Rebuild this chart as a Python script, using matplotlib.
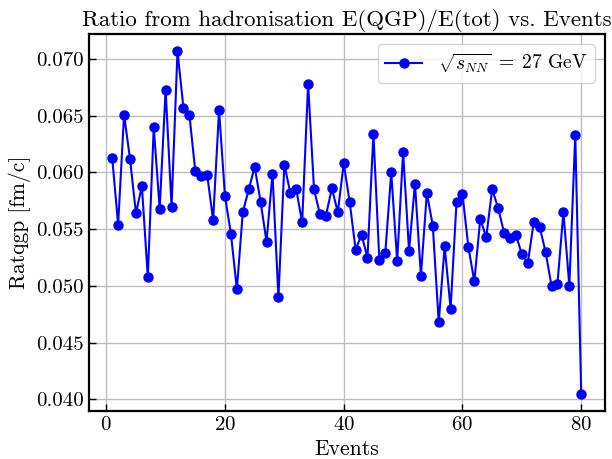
import numpy as np
import matplotlib
matplotlib.use("Agg")
import matplotlib.pyplot as plt

plt.rcParams['font.family'] = 'serif'
plt.rcParams['font.serif'] = ['cmr10']
plt.rcParams['mathtext.fontset'] = 'cm'
plt.rcParams['axes.formatter.use_mathtext'] = True
plt.rcParams['axes.unicode_minus'] = False

# event number and ratio
events = np.arange(1, 81)
ratio = [
    0.0613, 0.0554, 0.0651, 0.0612, 0.0564, 0.0588, 0.0508, 0.0640, 0.0568, 0.0673,
    0.0570, 0.0707, 0.0657, 0.0651, 0.0601, 0.0597, 0.0598, 0.0558, 0.0655, 0.0579,
    0.0546, 0.0497, 0.0565, 0.0585, 0.0605, 0.0574, 0.0539, 0.0599, 0.0490, 0.0607,
    0.0582, 0.0585, 0.0556, 0.0678, 0.0585, 0.0563, 0.0562, 0.0586, 0.0565, 0.0608,
    0.0574, 0.0532, 0.0545, 0.0525, 0.0634, 0.0523, 0.0529, 0.0600, 0.0522, 0.0618,
    0.0531, 0.0590, 0.0509, 0.0582, 0.0553, 0.0468, 0.0535, 0.0480, 0.0574, 0.0581,
    0.0534, 0.0504, 0.0559, 0.0543, 0.0585, 0.0569, 0.0547, 0.0542, 0.0545, 0.0528,
    0.0520, 0.0556, 0.0552, 0.0530, 0.0500, 0.0502, 0.0565, 0.0500, 0.0633, 0.0405,
]

fig, ax = plt.subplots(figsize=(6.12, 4.59), dpi=100)
fig.subplots_adjust(left=0.145, right=0.988, top=0.926, bottom=0.105)

ax.plot(events, ratio, color='blue', marker='o', markersize=6.5, linewidth=1.5,
        label=r'$\sqrt{s_{NN}}\;=\;27$ GeV')

ax.set_title("Ratio from hadronisation E(QGP)/E(tot) vs. Events", fontsize=16.5)
ax.set_xlabel("Events", fontsize=15.5)
ax.set_ylabel("Ratqgp [fm/c]", fontsize=15.5)
ax.set_xticks([0, 20, 40, 60, 80])
ax.set_yticks([0.040, 0.045, 0.050, 0.055, 0.060, 0.065, 0.070])
ax.set_yticklabels(['0.040', '0.045', '0.050', '0.055', '0.060', '0.065', '0.070'])
ax.tick_params(direction='in', labelsize=15, length=5, width=1)
for sp in ax.spines.values():
    sp.set_linewidth(1.6)
ax.grid(True, color='#bdbdbd', linewidth=1)
ax.legend(fontsize=14, loc='upper right', handlelength=1.9)

fig.savefig("out.png", dpi=100)
